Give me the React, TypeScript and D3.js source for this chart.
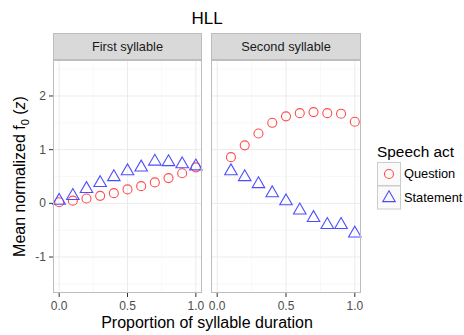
import React, { useEffect, useRef } from 'react';
import * as d3 from 'd3';

// Data
const panels = ['First syllable', 'Second syllable'];
const xFirst = [0, 0.1, 0.2, 0.3, 0.4, 0.5, 0.6, 0.7, 0.8, 0.9, 1.0];
const questionFirst = [0.02, 0.05, 0.09, 0.14, 0.19, 0.26, 0.32, 0.39, 0.47, 0.56, 0.67];
const statementFirst = [0.05, 0.14, 0.27, 0.38, 0.49, 0.6, 0.67, 0.78, 0.77, 0.73, 0.69];
const xSecond = [0.1, 0.2, 0.3, 0.4, 0.5, 0.6, 0.7, 0.8, 0.9, 1.0];
const questionSecond = [0.86, 1.08, 1.3, 1.5, 1.62, 1.68, 1.7, 1.68, 1.67, 1.52];
const statementSecond = [0.6, 0.49, 0.36, 0.19, 0.04, -0.13, -0.27, -0.4, -0.4, -0.56];
const xTicks = [0, 0.5, 1];
const xMinor = [0.25, 0.75];
const yTicks = [-1, 0, 1, 2];
const yMinor = [-1.5, -0.5, 0.5, 1.5, 2.5];
const legendLabels = ['Question', 'Statement'];

const RED = '#ff4d4d';
const BLUE = '#4d4dff';
const FONT = '"Liberation Sans", Arial, Helvetica, sans-serif';

const App = () => {
  const ref = useRef<SVGSVGElement>(null);

  useEffect(() => {
    document.body.style.margin = '0';
    const svg = d3.select(ref.current);
    svg.selectAll('*').remove();

    const width = 464;
    const height = 335;
    const panelTop = 60;
    const panelBottom = 293;
    const stripTop = 33;
    const panelX = [[53, 202], [211, 361]];

    const y = d3.scaleLinear().domain([-1.67, 2.67]).range([panelBottom, panelTop]);

    svg.attr('width', width).attr('height', height).style('font-family', FONT);

    const triangle = d3.symbol().type(d3.symbolTriangle).size(68);

    const series = [
      { xs: xFirst, q: questionFirst, s: statementFirst },
      { xs: xSecond, q: questionSecond, s: statementSecond },
    ];

    panelX.forEach(([x0, x1], i) => {
      const x = d3.scaleLinear().domain([-0.045, 1.045]).range([x0, x1]);
      const g = svg.append('g');

      g.append('rect')
        .attr('x', x0).attr('y', panelTop)
        .attr('width', x1 - x0).attr('height', panelBottom - panelTop)
        .attr('fill', 'white');

      // minor grid
      g.selectAll('.xminor').data(xMinor).enter().append('line')
        .attr('x1', d => x(d)).attr('x2', d => x(d))
        .attr('y1', panelTop).attr('y2', panelBottom)
        .attr('stroke', '#f4f4f4').attr('stroke-width', 0.6);
      g.selectAll('.yminor').data(yMinor).enter().append('line')
        .attr('x1', x0).attr('x2', x1)
        .attr('y1', d => y(d)).attr('y2', d => y(d))
        .attr('stroke', '#f4f4f4').attr('stroke-width', 0.6);
      // major grid
      g.selectAll('.xmajor').data(xTicks).enter().append('line')
        .attr('x1', d => x(d)).attr('x2', d => x(d))
        .attr('y1', panelTop).attr('y2', panelBottom)
        .attr('stroke', '#ebebeb').attr('stroke-width', 1);
      g.selectAll('.ymajor').data(yTicks).enter().append('line')
        .attr('x1', x0).attr('x2', x1)
        .attr('y1', d => y(d)).attr('y2', d => y(d))
        .attr('stroke', '#ebebeb').attr('stroke-width', 1);

      // points
      const s = series[i];
      g.selectAll('.q').data(s.xs).enter().append('circle')
        .attr('cx', d => x(d)).attr('cy', (_, j) => y(s.q[j]))
        .attr('r', 4.5)
        .attr('fill', 'none').attr('stroke', RED).attr('stroke-width', 1.1);
      g.selectAll('.s').data(s.xs).enter().append('path')
        .attr('d', triangle as any)
        .attr('transform', (d, j) => `translate(${x(d)},${y(s.s[j])})`)
        .attr('fill', 'none').attr('stroke', BLUE).attr('stroke-width', 1.1);

      // border
      g.append('rect')
        .attr('x', x0 + 0.5).attr('y', panelTop + 0.5)
        .attr('width', x1 - x0 - 1).attr('height', panelBottom - panelTop - 1)
        .attr('fill', 'none').attr('stroke', '#bdbdbd');

      // strip
      g.append('rect')
        .attr('x', x0 + 0.5).attr('y', stripTop + 0.5)
        .attr('width', x1 - x0 - 1).attr('height', panelTop - stripTop - 1)
        .attr('fill', '#d9d9d9').attr('stroke', '#bdbdbd');
      g.append('text')
        .attr('x', (x0 + x1) / 2).attr('y', (stripTop + panelTop) / 2 + 4.5)
        .attr('text-anchor', 'middle')
        .style('font-size', '12.8px').style('fill', '#1a1a1a')
        .text(panels[i]);

      // x axis ticks
      g.selectAll('.xt').data(xTicks).enter().append('line')
        .attr('x1', d => x(d)).attr('x2', d => x(d))
        .attr('y1', panelBottom).attr('y2', panelBottom + 4)
        .attr('stroke', '#333');
      g.selectAll('.xl').data(xTicks).enter().append('text')
        .attr('x', d => x(d)).attr('y', panelBottom + 17)
        .attr('text-anchor', 'middle')
        .style('font-size', '12px').style('fill', '#4d4d4d')
        .text(d => d3.format('.1f')(d));

      if (i === 0) {
        g.selectAll('.yt').data(yTicks).enter().append('line')
          .attr('x1', x0 - 4).attr('x2', x0)
          .attr('y1', d => y(d)).attr('y2', d => y(d))
          .attr('stroke', '#333');
        g.selectAll('.yl').data(yTicks).enter().append('text')
          .attr('x', x0 - 7).attr('y', d => y(d) + 4)
          .attr('text-anchor', 'end')
          .style('font-size', '12px').style('fill', '#4d4d4d')
          .text(d => String(d));
      }
    });

    // title
    svg.append('text')
      .attr('x', 207).attr('y', 24)
      .attr('text-anchor', 'middle')
      .style('font-size', '17px').style('fill', 'black')
      .text('HLL');

    // x axis title
    svg.append('text')
      .attr('x', 207).attr('y', 328)
      .attr('text-anchor', 'middle')
      .style('font-size', '16px').style('fill', 'black')
      .text('Proportion of syllable duration');

    // y axis title
    const yt = svg.append('text')
      .attr('transform', `translate(25,${(panelTop + panelBottom) / 2}) rotate(-90)`)
      .attr('text-anchor', 'middle')
      .style('font-size', '16px').style('fill', 'black');
    yt.append('tspan').text('Mean normalized f');
    yt.append('tspan').attr('dy', 4).style('font-size', '11px').text('0');
    yt.append('tspan').attr('dy', -4).text(' (');
    yt.append('tspan').style('font-style', 'italic').text('z');
    yt.append('tspan').text(')');

    // legend
    const lg = svg.append('g');
    lg.append('text')
      .attr('x', 377).attr('y', 157)
      .style('font-size', '15.4px').style('fill', 'black')
      .text('Speech act');
    legendLabels.forEach((label, i) => {
      const top = 162 + i * 23.5;
      lg.append('rect')
        .attr('x', 377.5).attr('y', top + 0.5)
        .attr('width', 23).attr('height', 23)
        .attr('fill', '#fafafa').attr('stroke', '#cccccc');
      if (i === 0) {
        lg.append('circle')
          .attr('cx', 389).attr('cy', top + 12).attr('r', 4.5)
          .attr('fill', 'none').attr('stroke', RED).attr('stroke-width', 1.1);
      } else {
        lg.append('path')
          .attr('d', triangle as any)
          .attr('transform', `translate(389,${top + 12.5})`)
          .attr('fill', 'none').attr('stroke', BLUE).attr('stroke-width', 1.1);
      }
      lg.append('text')
        .attr('x', 404).attr('y', top + 16)
        .style('font-size', '12.8px').style('fill', 'black')
        .text(label);
    });
  }, []);

  return <svg ref={ref} style={{ display: 'block' }} />;
};

export default App;
